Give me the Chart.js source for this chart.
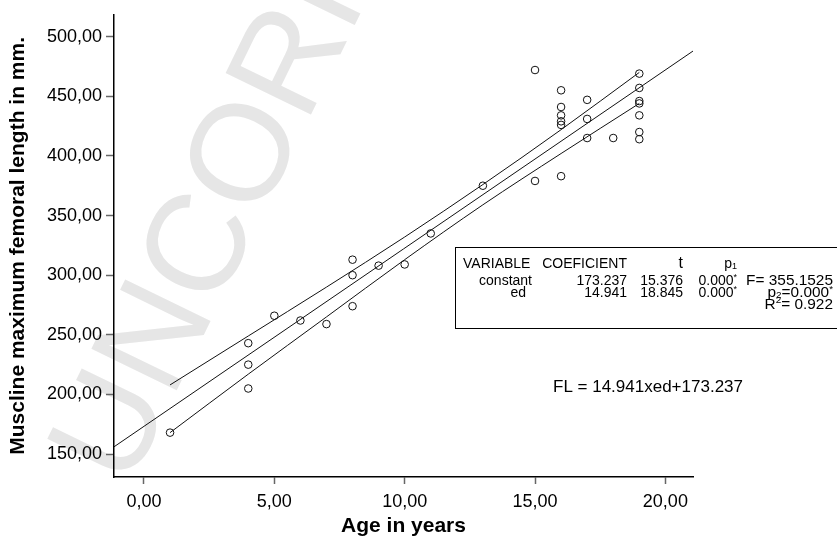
<!DOCTYPE html>
<html>
<head>
<meta charset="utf-8">
<script src="https://cdn.jsdelivr.net/npm/chart.js@4.4.0/dist/chart.umd.min.js"></script>
<style>
  html, body { margin: 0; padding: 0; background: #fff; }
  #wrap { width: 837px; height: 539px; }
</style>
</head>
<body>
<div id="wrap"><canvas id="femurChart" width="837" height="539"></canvas></div>
<script>
// observed cases (age in years, femoral length in mm)
const ages = [1, 4, 4, 4, 5, 6, 7, 8, 8, 8, 9, 10, 11, 13, 15, 15,
              16, 16, 16, 16, 16, 16, 17, 17, 17, 18, 19, 19, 19, 19, 19, 19, 19];
const lengths = [168, 243, 225, 205, 266, 262, 259, 313, 300, 274, 308, 309, 335, 375, 472, 379,
                 455, 441, 434, 429, 426, 383, 447, 431, 415, 415, 469, 457, 446, 444, 434, 420, 414];

// fitted line, read at the two ends of the x axis
const fitAges = [-1.15, 21.06];
const fitLengths = [156.1, 487.9];

// confidence band
const bandAges = [1, 4, 7, 10, 13, 16, 19];
const bandUpper = [208, 249, 290, 332, 376, 422, 470];
const bandLower = [168, 217, 265, 313, 359, 402, 444];

const xMin = -1.15, xMax = 21.06;
const yMin = 130.8, yMax = 518.3;

const FONT = '"Liberation Sans", Arial, sans-serif';

function toPoints(xs, ys) {
    return xs.map((x, i) => ({ x: x, y: ys[i] }));
}

function comma(v) {
    return v.toFixed(2).replace('.', ',');
}

// draws a run of text pieces (with sub/superscripts), horizontally stretched
function drawRuns(ctx, runs, x, y, align, stretch) {
    let w = 0;
    runs.forEach(r => {
        ctx.font = r.size + 'px ' + FONT;
        w += ctx.measureText(r.t).width;
    });
    let start = align === 'right' ? x - w * stretch : x;
    ctx.save();
    ctx.translate(start, y);
    ctx.scale(stretch, 1);
    let cx = 0;
    runs.forEach(r => {
        ctx.font = r.size + 'px ' + FONT;
        ctx.fillText(r.t, cx, r.dy || 0);
        cx += ctx.measureText(r.t).width;
    });
    ctx.restore();
}

const watermark = {
    id: 'watermark',
    beforeDraw(chart) {
        const ctx = chart.ctx;
        ctx.save();
        ctx.translate(128, 490);
        ctx.rotate(-64 * Math.PI / 180);
        ctx.fillStyle = '#e6e6e6';
        ctx.font = '138px ' + FONT;
        ctx.textBaseline = 'alphabetic';
        ctx.fillText('UNCORRECTED PROOF', 0, 0);
        ctx.restore();
    }
};

const statsBox = {
    id: 'statsBox',
    afterDraw(chart) {
        const ctx = chart.ctx;
        ctx.save();
        ctx.strokeStyle = '#000';
        ctx.lineWidth = 1;
        ctx.strokeRect(455.5, 247.5, 400, 81);

        ctx.fillStyle = '#000';
        ctx.textBaseline = 'middle';
        const s = 14, sm = 9, k = 1.0, kf = 1.1;
        const star = { t: '*', size: sm, dy: -3 };

        drawRuns(ctx, [{ t: 'VARIABLE', size: s }], 463, 264, 'left', k);
        drawRuns(ctx, [{ t: 'COEFICIENT', size: s }], 627, 264, 'right', k);
        drawRuns(ctx, [{ t: 't', size: s + 2 }], 683, 264, 'right', k);
        drawRuns(ctx, [{ t: 'p', size: s }, { t: '1', size: sm, dy: 3 }], 737, 264, 'right', k);

        drawRuns(ctx, [{ t: 'constant', size: s }], 532, 281, 'right', k);
        drawRuns(ctx, [{ t: '173.237', size: s }], 627, 281, 'right', k);
        drawRuns(ctx, [{ t: '15.376', size: s }], 683, 281, 'right', k);
        drawRuns(ctx, [{ t: '0.000', size: s }, star], 737, 281, 'right', k);
        drawRuns(ctx, [{ t: 'F= 355.1525', size: s }], 833, 281, 'right', kf);

        drawRuns(ctx, [{ t: 'ed', size: s }], 526, 293, 'right', k);
        drawRuns(ctx, [{ t: '14.941', size: s }], 627, 293, 'right', k);
        drawRuns(ctx, [{ t: '18.845', size: s }], 683, 293, 'right', k);
        drawRuns(ctx, [{ t: '0.000', size: s }, star], 737, 293, 'right', k);
        drawRuns(ctx, [{ t: 'p', size: s }, { t: '2', size: sm, dy: 3 }, { t: '=0.000', size: s }, star], 833, 293, 'right', kf);

        drawRuns(ctx, [{ t: 'R', size: s }, { t: '2', size: sm, dy: -4 }, { t: '= 0.922', size: s }], 833, 305, 'right', kf);

        ctx.textAlign = 'center';
        ctx.font = '17px ' + FONT;
        ctx.fillText('FL = 14.941xed+173.237', 648, 387);
        ctx.restore();
    }
};

const ctx = document.getElementById('femurChart').getContext('2d');
const femurChart = new Chart(ctx, {
    type: 'scatter',
    data: {
        datasets: [
            {
                label: 'Cases',
                data: toPoints(ages, lengths),
                pointStyle: 'circle',
                pointRadius: 3.8,
                pointBorderWidth: 1,
                pointBorderColor: '#111',
                pointBackgroundColor: 'rgba(0,0,0,0)'
            },
            {
                label: 'Fit',
                type: 'line',
                data: toPoints(fitAges, fitLengths),
                borderColor: '#111',
                borderWidth: 1,
                pointRadius: 0,
                fill: false
            },
            {
                label: 'Upper',
                type: 'line',
                data: toPoints(bandAges, bandUpper),
                borderColor: '#111',
                borderWidth: 1,
                pointRadius: 0,
                cubicInterpolationMode: 'monotone',
                fill: false
            },
            {
                label: 'Lower',
                type: 'line',
                data: toPoints(bandAges, bandLower),
                borderColor: '#111',
                borderWidth: 1,
                pointRadius: 0,
                cubicInterpolationMode: 'monotone',
                fill: false
            }
        ]
    },
    options: {
        responsive: false,
        animation: false,
        layout: { padding: { left: 0, top: 12, right: 144, bottom: 0 } },
        plugins: {
            legend: { display: false },
            tooltip: { enabled: false }
        },
        scales: {
            x: {
                type: 'linear',
                min: xMin,
                max: xMax,
                afterFit: (s) => { s.height = 62; },
                grid: { drawOnChartArea: false, drawTicks: true, tickLength: 7, tickColor: '#666', tickWidth: 1.5 },
                border: { display: true, color: '#000', width: 1.5 },
                ticks: {
                    stepSize: 5,
                    includeBounds: false,
                    color: '#000',
                    padding: 7,
                    font: { family: FONT, size: 18 },
                    callback: (v) => comma(v)
                },
                title: {
                    display: true,
                    text: 'Age in years',
                    color: '#000',
                    padding: { top: 0, bottom: 0 },
                    font: { family: FONT, size: 21, weight: 'bold' }
                }
            },
            y: {
                min: yMin,
                max: yMax,
                afterFit: (s) => { s.width = 114; },
                grid: { drawOnChartArea: false, drawTicks: true, tickLength: 8, tickColor: '#666', tickWidth: 1.5 },
                border: { display: true, color: '#000', width: 1.5 },
                ticks: {
                    stepSize: 50,
                    includeBounds: false,
                    color: '#000',
                    padding: 4,
                    font: { family: FONT, size: 18 },
                    callback: (v) => comma(v)
                },
                title: {
                    display: true,
                    text: 'Muscline maximum femoral length in mm.',
                    color: '#000',
                    padding: { top: 6, bottom: 0 },
                    font: { family: FONT, size: 21, weight: 'bold' }
                }
            }
        }
    },
    plugins: [watermark, statsBox]
});
</script>
</body>
</html>
